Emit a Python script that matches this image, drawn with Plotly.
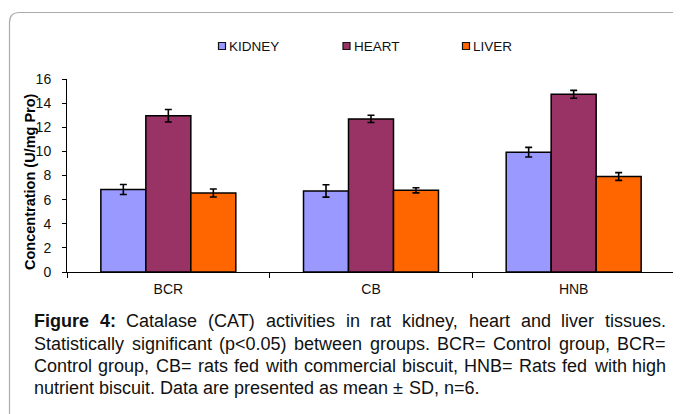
import plotly.graph_objects as go

# ---------------- data ----------------
categories = ["BCR", "CB", "HNB"]
series = ["KIDNEY", "HEART", "LIVER"]
kidney = [6.84, 6.72, 9.93]
heart = [12.95, 12.69, 14.73]
liver = [6.55, 6.77, 7.92]
kidney_sd = [0.42, 0.51, 0.40]
heart_sd = [0.52, 0.30, 0.33]
liver_sd = [0.33, 0.21, 0.32]
colors = ["#9999FF", "#993366", "#FF6600"]
y_ticks = [0, 2, 4, 6, 8, 10, 12, 14, 16]
y_title = "Concentration (U/mg Pro)"

caption_lines = [
    ("Figure 4:", " Catalase (CAT) activities in rat kidney, heart and liver tissues.", True),
    ("", "Statistically significant (p<0.05) between groups. BCR= Control group, BCR=", True),
    ("", "Control group, CB= rats fed with commercial biscuit, HNB= Rats fed with high", True),
    ("", "nutrient biscuit. Data are presented as mean ± SD, n=6.", False),
]

# ---------------- geometry helpers ----------------
OFF = 8  # default page body margin
W, H = 681 - OFF, 414 - OFF
ML, MR, MT, MB = 67 - OFF, 6, 79 - OFF, 142
PW, PH = W - ML - MR, H - MT - MB


def px(x):  # page pixel -> paper
    return (x - OFF - ML) / PW


def py(y):  # page pixel -> paper
    return (H - MB - (y - OFF)) / PH


FONT = "Liberation Sans, Arial, Helvetica, sans-serif"

# Arial / Liberation Sans advance widths (1/1000 em)
REG = {' ': 278, '(': 333, ')': 333, ',': 278, '.': 278, '/': 278, ':': 278, '<': 584, '=': 584, '±': 584,
       'A': 667, 'B': 667, 'C': 722, 'D': 722, 'E': 667, 'F': 611, 'G': 778, 'H': 722, 'I': 278, 'K': 667,
       'L': 556, 'N': 722, 'P': 667, 'R': 722, 'S': 667, 'T': 611, 'U': 722, 'Y': 667,
       'a': 556, 'b': 556, 'c': 500, 'd': 556, 'e': 556, 'f': 278, 'g': 556, 'h': 556, 'i': 222, 'k': 500,
       'l': 222, 'm': 833, 'n': 556, 'o': 556, 'p': 556, 'r': 333, 's': 500, 't': 278, 'u': 556, 'v': 500,
       'w': 722, 'y': 500}
BOLD = {' ': 278, 'F': 611, 'i': 278, 'g': 611, 'u': 611, 'r': 389, 'e': 556, '4': 556, ':': 333}


def text_w(s, size, bold=False):
    tbl = BOLD if bold else REG
    return sum(tbl.get(c, 556) for c in s) * size / 1000.0


# ---------------- figure ----------------
fig = go.Figure()
vals = [kidney, heart, liver]
sds = [kidney_sd, heart_sd, liver_sd]
for name, v, e, c in zip(series, vals, sds, colors):
    fig.add_trace(go.Bar(
        x=categories, y=v, name=name, showlegend=False,
        marker=dict(color=c, line=dict(color="black", width=1.5)),
        error_y=dict(type="data", array=e, color="black", thickness=1.6, width=3.5),
    ))

shapes = []
annotations = []

# rounded frame (partially visible)
x0, x1, yt, yb, r = px(9.5), px(700), py(12.5), py(430), 10
frame_path = (f"M {x0},{yb} L {x0},{py(12.5 + r)} Q {x0},{yt} {px(9.5 + r)},{yt} L {x1},{yt}")
shapes.append(dict(type="path", xref="paper", yref="paper", path=frame_path,
                   line=dict(color="#ababab", width=1.2), layer="below"))

# custom legend
leg_sq_x = [218.5, 343, 462.5]
leg_y = 46
for name, c, lx in zip(series, colors, leg_sq_x):
    shapes.append(dict(type="rect", xref="paper", yref="paper",
                       x0=px(lx), x1=px(lx + 7), y0=py(leg_y + 3.5), y1=py(leg_y - 3.5),
                       fillcolor=c, line=dict(color="#111111", width=1.2)))
    annotations.append(dict(xref="paper", yref="paper", x=px(lx + 9.5), y=py(leg_y),
                            xanchor="left", yanchor="middle", text=name, showarrow=False,
                            borderpad=0, font=dict(family=FONT, size=13.5, color="#111111")))

# y-axis title
annotations.append(dict(xref="paper", yref="paper", x=px(29.5), y=py(181.5), textangle=-90,
                        xanchor="center", yanchor="middle", showarrow=False,
                        text=f"<b>{y_title}</b>", font=dict(family=FONT, size=14.5, color="#000000")))

# caption, justified
CAP_L, CAP_R = 33, 665
CAP_SIZE = 18
cap_y = [321, 344, 366, 388]
for (bold_part, rest, justify), yc in zip(caption_lines, cap_y):
    words = [(w, True) for w in bold_part.split()] + [(w, False) for w in rest.split()]
    widths = [text_w(w, CAP_SIZE, b) for w, b in words]
    if justify and len(words) > 1:
        gap = (CAP_R - CAP_L - sum(widths)) / (len(words) - 1)
    else:
        gap = REG[' '] * CAP_SIZE / 1000.0
    xcur = CAP_L
    for (w, b), wd in zip(words, widths):
        annotations.append(dict(xref="paper", yref="paper", x=px(xcur), y=py(yc),
                                xanchor="left", yanchor="middle", showarrow=False, borderpad=0,
                                text=f"<b>{w}</b>" if b else w,
                                font=dict(family=FONT, size=CAP_SIZE, color="#111111")))
        xcur += wd + gap

fig.update_layout(
    width=W, height=H,
    margin=dict(l=ML, r=MR, t=MT, b=MB, autoexpand=False),
    barmode="group", bargap=0.334, bargroupgap=0,
    plot_bgcolor="white", paper_bgcolor="white",
    showlegend=False,
    shapes=shapes, annotations=annotations,
    font=dict(family=FONT, color="#111111"),
    xaxis=dict(showline=True, linecolor="black", linewidth=1, ticks="outside", tickson="boundaries",
               ticklen=5, tickcolor="black", tickwidth=1, showgrid=False,
               tickfont=dict(family=FONT, size=14, color="#111111"), ticklabelstandoff=4),
    yaxis=dict(range=[0, 16], tickvals=y_ticks, showline=True, linecolor="black", linewidth=1,
               ticks="outside", ticklen=4, tickcolor="black", tickwidth=1, showgrid=False,
               zeroline=False, tickfont=dict(family=FONT, size=14, color="#111111"),
               ticklabelstandoff=8),
)

fig.write_html("out.html")
